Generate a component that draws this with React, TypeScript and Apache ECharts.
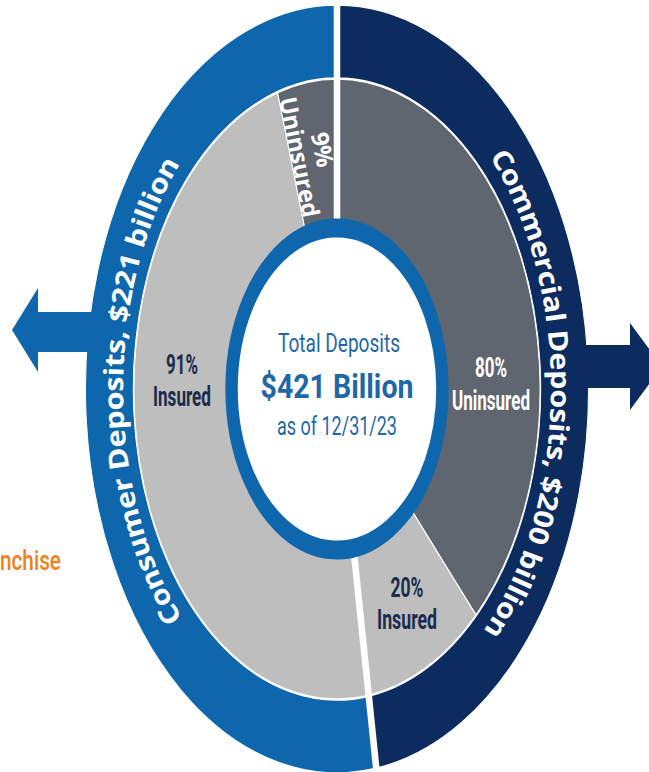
import React, { useEffect, useRef } from 'react';
import * as echarts from 'echarts';

// ---------------- data ----------------
const segments = ['Consumer Deposits', 'Commercial Deposits'];
const segmentTotals = [221, 200]; // $ billion
const insuredPct = [91, 20];
const uninsuredPct = [9, 80];
const asOfDate = '12/31/23';
const cutWord = 'nchise';

// ---------------- layout ----------------
const W = 649;
const H = 772;
const SX = 0.655; // horizontal squeeze of the whole picture
const CW = W / SX;
const CX_IMG = 337;
const CY = 389;
const CX = CX_IMG / SX;

const COLORS = {
  consumer: '#0e67ad',
  commercial: '#0c2b5e',
  insured: '#bebebe',
  uninsured: '#5f6670',
  labelDark: '#1a2b4c',
  center: '#1f68a8',
  orange: '#f08020',
};

type FontSpec = { family: string; size: number; weight: number | string };
const ROBOTO = 'Roboto';
const OPEN = '"Open Sans"';

const fontString = (f: FontSpec) => `${f.weight} ${f.size}px ${f.family}`;

let ctx: CanvasRenderingContext2D | null = null;
function measure(text: string, font: string): number {
  if (!ctx) ctx = document.createElement('canvas').getContext('2d');
  ctx!.font = font;
  return ctx!.measureText(text).width;
}

function txt(
  xImg: number,
  yImg: number,
  text: string,
  f: FontSpec,
  fill: string,
  targetW?: number,
  rotDeg = 0,
  align = 'center'
) {
  const sc = targetW ? targetW / measure(text, fontString(f)) : 1;
  return {
    type: 'group',
    x: xImg / SX,
    y: yImg,
    scaleX: 1 / SX,
    children: [
      {
        type: 'text',
        z: 10,
        rotation: (-rotDeg * Math.PI) / 180,
        scaleX: sc,
        style: {
          text,
          fill,
          fontSize: f.size,
          fontWeight: f.weight,
          fontFamily: f.family,
          align,
          verticalAlign: 'middle',
          textAlign: align,
          textVerticalAlign: 'middle',
        },
      },
    ],
  };
}

function arcText(text: string, f: FontSpec, fill: string, thetaFrom: number, thetaTo: number, r: number) {
  const fs = fontString(f);
  const toRad = Math.PI / 180;
  const t1 = thetaFrom * toRad;
  const t2 = thetaTo * toRad;
  const N = 3000;
  const pt = (t: number) => [CX_IMG + SX * r * Math.sin(t), CY - r * Math.cos(t)];
  const cum: number[] = [0];
  let prev = pt(t1);
  for (let i = 1; i <= N; i++) {
    const p = pt(t1 + ((t2 - t1) * i) / N);
    cum[i] = cum[i - 1] + Math.hypot(p[0] - prev[0], p[1] - prev[1]);
    prev = p;
  }
  const L = cum[N];
  const natural = measure(text, fs);
  const sc = L / natural;
  const out: any[] = [];
  let j = 0;
  for (let i = 0; i < text.length; i++) {
    const ch = text[i];
    if (ch === ' ') continue;
    const a = measure(text.slice(0, i), fs);
    const b = measure(text.slice(0, i + 1), fs);
    const d = ((a + b) / 2) * sc;
    while (j < N - 1 && cum[j + 1] < d) j++;
    const seg = cum[j + 1] - cum[j] || 1;
    const frac = (d - cum[j]) / seg;
    const t = t1 + ((t2 - t1) * (j + frac)) / N;
    const [X, Y] = pt(t);
    const phi = Math.atan2(Math.sin(t), SX * Math.cos(t));
    out.push({
      type: 'group',
      x: X / SX,
      y: Y,
      scaleX: 1 / SX,
      children: [
        {
          type: 'text',
          z: 10,
          rotation: -phi,
          scaleX: sc,
          style: {
            text: ch,
            fill,
            fontSize: f.size,
            fontWeight: f.weight,
            fontFamily: f.family,
            align: 'center',
            verticalAlign: 'middle',
            textAlign: 'center',
            textVerticalAlign: 'middle',
          },
        },
      ],
    });
  }
  return out;
}

function buildOption() {
  const [consumerTotal, commercialTotal] = segmentTotals;
  const total = consumerTotal + commercialTotal;

  const outerData = [
    { name: segments[1], value: commercialTotal, itemStyle: { color: COLORS.commercial } },
    { name: segments[0], value: consumerTotal, itemStyle: { color: COLORS.consumer } },
  ];
  const innerData = [
    { name: 'Commercial uninsured', value: (commercialTotal * uninsuredPct[1]) / 100, itemStyle: { color: COLORS.uninsured } },
    { name: 'Commercial insured', value: (commercialTotal * insuredPct[1]) / 100, itemStyle: { color: COLORS.insured } },
    { name: 'Consumer insured', value: (consumerTotal * insuredPct[0]) / 100, itemStyle: { color: COLORS.insured } },
    { name: 'Consumer uninsured', value: (consumerTotal * uninsuredPct[0]) / 100, itemStyle: { color: COLORS.uninsured } },
  ];

  const pieBase = {
    type: 'pie',
    center: [CX, CY],
    startAngle: 90,
    clockwise: true,
    silent: true,
    z: 2,
    label: { show: false },
    labelLine: { show: false },
    emphasis: { disabled: true },
    itemStyle: { borderColor: '#ffffff', borderWidth: 1.5 },
  };

  const splitAngles = [0, (360 * commercialTotal) / total];
  const splitLines = splitAngles.map((deg) => {
    const a = (deg * Math.PI) / 180;
    return {
      type: 'line',
      z: 4,
      shape: { x1: CX, y1: CY, x2: CX + 400 * Math.sin(a), y2: CY - 400 * Math.cos(a) },
      style: { stroke: '#ffffff', lineWidth: 10 },
    };
  });

  const leftArrow = [[12, 330], [38, 288], [38, 312], [101, 312], [101, 352], [38, 352], [38, 372]];
  const rightArrow = [[662, 366.5], [630, 323], [630, 345], [575, 345], [575, 388], [630, 388], [630, 410]];
  const arrows = [
    { type: 'polygon', z: 3, shape: { points: leftArrow.map(([x, y]) => [x / SX, y]) }, style: { fill: COLORS.consumer } },
    { type: 'polygon', z: 3, shape: { points: rightArrow.map(([x, y]) => [x / SX, y]) }, style: { fill: COLORS.commercial } },
  ];

  const centerCircle = {
    type: 'circle',
    z: 5,
    shape: { cx: CX, cy: CY, r: 161 },
    style: { fill: '#ffffff', stroke: COLORS.consumer, lineWidth: 19 },
  };

  const lblFont: FontSpec = { family: ROBOTO, size: 27, weight: 700 };
  const ringFont: FontSpec = { family: OPEN, size: 27, weight: 700 };
  const rotFont: FontSpec = { family: OPEN, size: 24, weight: 700 };

  const texts = [
    txt(339, 343, 'Total Deposits', { family: ROBOTO, size: 26, weight: 400 }, COLORS.center, 122),
    txt(337, 387, `$${total} Billion`, { family: ROBOTO, size: 33, weight: 700 }, COLORS.center, 153),
    txt(337, 426, `as of ${asOfDate}`, { family: ROBOTO, size: 26, weight: 400 }, COLORS.center, 120),

    txt(182, 365, `${insuredPct[0]}%`, lblFont, COLORS.labelDark, 32),
    txt(182, 397, 'Insured', lblFont, COLORS.labelDark, 58),
    txt(491, 368, `${uninsuredPct[1]}%`, lblFont, '#ffffff', 32),
    txt(491, 401, 'Uninsured', lblFont, '#ffffff', 78),
    txt(407, 588, `${insuredPct[1]}%`, lblFont, COLORS.labelDark, 33),
    txt(407, 620, 'Insured', lblFont, COLORS.labelDark, 60),
    txt(323.5, 149.5, `${uninsuredPct[0]}%`, rotFont, '#ffffff', 35, 78.7),
    txt(300, 157, 'Uninsured', rotFont, '#ffffff', 122, 78.7),

    txt(0, 561, cutWord, { family: ROBOTO, size: 27, weight: 500 }, COLORS.orange, 61, 0, 'left'),

    ...arcText(`${segments[1]}, $${segmentTotals[1]} billion`, ringFont, '#ffffff', 46, 136.3, 343),
    ...arcText(`${segments[0]}, $${segmentTotals[0]} billion`, ringFont, '#ffffff', 226.8, 312.3, 343),
  ];

  return {
    animation: false,
    backgroundColor: '#ffffff',
    series: [
      { ...pieBase, name: 'Deposit type', radius: [311, 384], data: outerData },
      { ...pieBase, name: 'Insured status', radius: [150, 310], data: innerData },
    ],
    graphic: { elements: [...arrows, ...splitLines, centerCircle, ...texts] },
  };
}

export default function App() {
  const ref = useRef<HTMLDivElement>(null);
  useEffect(() => {
    if (!ref.current) return;
    const chart = echarts.init(ref.current, null, { renderer: 'svg', width: CW, height: H });
    chart.setOption(buildOption() as any);
    return () => chart.dispose();
  }, []);
  return (
    <div style={{ position: 'absolute', left: 0, top: 0, width: W, height: H, overflow: 'hidden', background: '#fff' }}>
      <div
        ref={ref}
        style={{ width: CW, height: H, transform: `scaleX(${SX})`, transformOrigin: '0 0' }}
      />
    </div>
  );
}
